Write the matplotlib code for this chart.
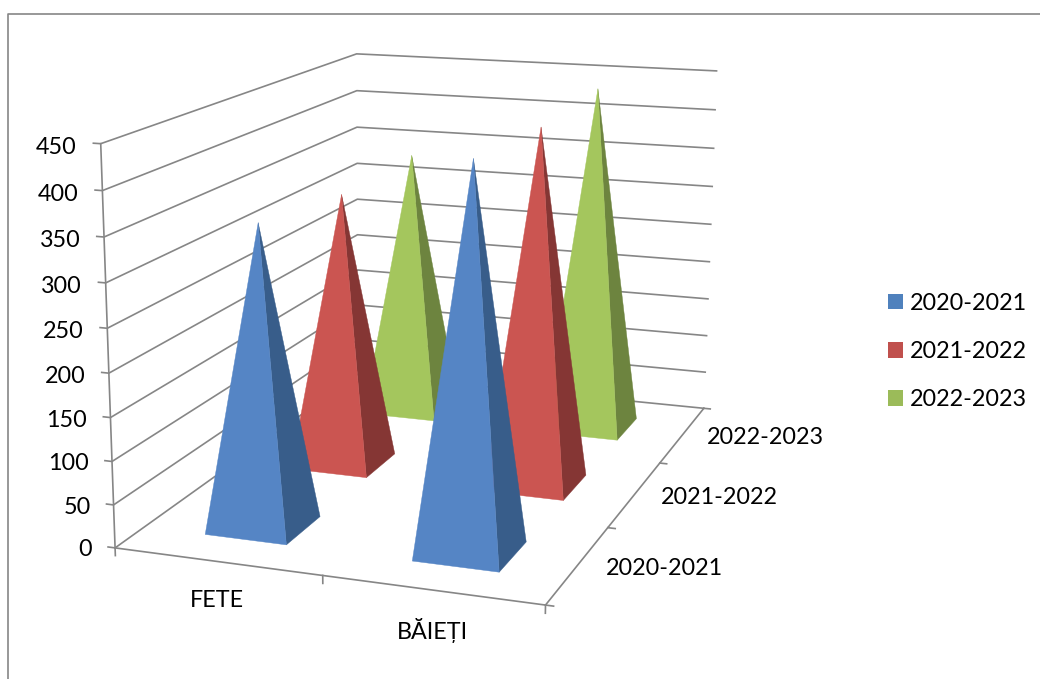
import numpy as np
import matplotlib
matplotlib.use("Agg")
import matplotlib.pyplot as plt
from matplotlib.lines import Line2D
from matplotlib.patches import Patch
from mpl_toolkits.mplot3d.art3d import Poly3DCollection

plt.rcParams['font.family'] = ['Lato', 'DejaVu Sans']

categories = ['FETE', 'BĂIEȚI']
series_names = ['2020-2021', '2021-2022', '2022-2023']
fete = [350, 335, 340]
baieti = [436, 430, 439]
value_ticks = [0, 50, 100, 150, 200, 250, 300, 350, 400, 450]

front_colors = ['#5585C5', '#CB5551', '#A4C65D']
side_colors = ['#385D8A', '#853634', '#6D843F']
legend_colors = ['#4F81BD', '#C0504D', '#9BBB59']
line_color = '#868686'

W, H = 1040, 679
half_w, half_d = 0.2, 0.2
label_size = 16.8

# where the corners of the box sit in the picture (x, y, value) -> pixel
box_corners = [((0, 0, 0), (115.3, 546.7)), ((2, 0, 0), (546, 605.7)),
               ((2, 3, 0), (704, 407.7)), ((0, 3, 0), (357.5, 375)),
               ((0, 0, 450), (100, 144.3)), ((0, 3, 450), (357.7, 53.3)),
               ((2, 3, 450), (716, 71))]


def fit_camera(corners):
  rows = []
  for (x, y, z), (u, v) in corners:
    z, u, v = z / 450, u / 1000, v / 1000
    rows.append([x, y, z, 1, 0, 0, 0, 0, -u * x, -u * y, -u * z, -u])
    rows.append([0, 0, 0, 0, x, y, z, 1, -v * x, -v * y, -v * z, -v])
  p = np.linalg.svd(np.array(rows))[2][-1].reshape(3, 4)
  if p[2] @ [1, 1, 0, 1] < 0:
    p = -p
  return np.diag([1000, 1000, 1]) @ p @ np.diag([1, 1, 1 / 450, 1])


camera = fit_camera(box_corners)

fig = plt.figure(figsize=(W / 100, H / 100), dpi=100, facecolor='white')
# 3d axes are always square, so make the square cover the whole figure
ax = fig.add_axes([0, (H - W) / 2 / H, 1, W / H], projection='3d', computed_zorder=False)
ax.set_axis_off()


def get_proj():
  to_data = ax.transData.inverted().get_affine().get_matrix()
  flip = np.array([[1, 0, 0], [0, -1, H], [0, 0, 1]])
  q = to_data @ flip @ camera
  # third row is only depth, it has to stay negative or lines get dropped
  return np.vstack([q[0], q[1], [0, -1, 0, -2], q[2]])


ax.get_proj = get_proj


def gray_line(xs, ys, zs):
  ax.plot(xs, ys, zs, color=line_color, lw=1.2, zorder=1)


def label(x, y, z, text, ha):
  # labels go on the figure, at the spot the camera gives for that 3d point
  u, v, w = camera @ [x, y, z, 1]
  fig.text(u / w / W, 1 - v / w / H, text, ha=ha, va='center', fontsize=label_size, color='black')


# walls and floor
for v in value_ticks:
  gray_line([-0.035, 0, 0, 2], [0, 0, 3, 3], [v, v, v, v])
gray_line([0, 0], [0, 0], [0, 450])
gray_line([0, 2, 2], [0, 0, 3], [0, 0, 0])
for x in range(3):
  gray_line([x, x], [0, 0], [0, -9])
for y in range(4):
  gray_line([2, 2.035], [y, y], [0, 0])

# pyramids, back row first
order = 2
for s in [2, 1, 0]:
  for c, values in enumerate([fete, baieti]):
    cx, cy, top = c + 0.5, s + 0.5, values[s]
    left, right = cx - half_w, cx + half_w
    front, back = cy - half_d, cy + half_d
    apex = (cx, cy, top)
    front_face = [(left, front, 0), (right, front, 0), apex]
    side_face = [(right, front, 0), (right, back, 0), apex]
    for face, color in [(side_face, side_colors[s]), (front_face, front_colors[s])]:
      poly = Poly3DCollection([face], facecolors=color, edgecolors=color, linewidths=0.3)
      poly.set_zorder(order)
      ax.add_collection3d(poly)
      order += 1

# axis labels
for v in value_ticks:
  label(-0.115, 0, v - 6, str(v), 'right')
for name, x in zip(categories, [0.695, 1.65]):
  label(x, -0.42, 0, name, 'center')
for s, name in enumerate(series_names):
  label(2.125, s + 0.5, -1, name, 'left')

handles = [Patch(facecolor=c, edgecolor='none') for c in legend_colors]
fig.legend(handles, series_names, loc='center left', bbox_to_anchor=(888 / W, 1 - 351.5 / H),
           frameon=False, fontsize=label_size, handlelength=0.64, handleheight=0.64,
           handletextpad=0.3, labelspacing=1.17, borderpad=0, borderaxespad=0)

# chart frame, runs off the right and bottom of the picture
frame_x = [7.5 / W, 7.5 / W, 1]
frame_y = [0, 1 - 14 / H, 1 - 14 / H]
fig.add_artist(Line2D(frame_x, frame_y, color=line_color, lw=1.2))

fig.savefig('out.png', dpi=100)
